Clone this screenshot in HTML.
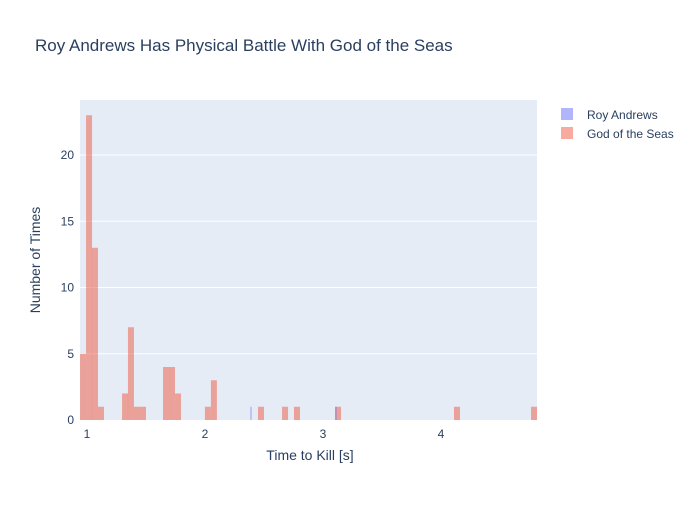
<!DOCTYPE html>
<html><head><meta charset="utf-8"><style>
body{margin:0;background:#fff;font-family:"Liberation Sans",sans-serif;}
svg text{font-family:"Liberation Sans",sans-serif;}
</style></head><body>
<svg width="700" height="500" xmlns="http://www.w3.org/2000/svg">
<rect width="700" height="500" fill="#fff"/>
<text x="35" y="51" font-size="17" fill="#2a3f5f">Roy Andrews Has Physical Battle With God of the Seas</text>
<rect x="80" y="100" width="457" height="320" fill="#e5ecf6"/>
<g id="grid"></g>
<g id="bars"></g>
<g id="ticks"></g>
<text x="310" y="460" font-size="14" fill="#2a3f5f" text-anchor="middle">Time to Kill [s]</text>
<text transform="translate(40,260) rotate(-90)" font-size="14" fill="#2a3f5f" text-anchor="middle">Number of Times</text>
<g>
<g><rect x="561" y="108" width="12" height="12" fill="#636efa" opacity="0.5"/><text x="587" y="119" font-size="12" fill="#2a3f5f">Roy Andrews</text></g>
<g><rect x="561" y="127" width="12" height="12" fill="#EF553B" opacity="0.5"/><text x="587" y="138" font-size="12" fill="#2a3f5f">God of the Seas</text></g>
</g>
</svg>
<script>
const redStarts=[0.941,0.992,1.042,1.093,1.297,1.347,1.398,1.449,1.644,1.695,1.746,1.999,2.05,2.449,2.653,2.754,3.102,4.110,4.763];
const redCounts=[5,23,13,1,2,7,1,1,4,4,2,1,3,1,1,1,1,1,1];
const blueValues=[2.39,3.11];
const blueCounts=[1,1];
const binWidth=0.0508;
const xTicks=[1,2,3,4];
const yTicks=[0,5,10,15,20];
const NS="http://www.w3.org/2000/svg";
const xs=v=>87+(v-1)*118;
const ys=v=>420-v*13.25;
function mk(tag,attrs,parent,text){const e=document.createElementNS(NS,tag);for(const k in attrs)e.setAttribute(k,attrs[k]);if(text!==undefined)e.textContent=text;document.getElementById(parent).appendChild(e);return e;}
yTicks.forEach(t=>{
 if(t>0){const g=mk('line',{x1:80,x2:537,y1:ys(t),y2:ys(t),stroke:'#fff','stroke-width':1},'grid');
 
 }
 const l=mk('text',{x:74,y:ys(t)+4,'font-size':12,fill:'#2a3f5f','text-anchor':'end'},'ticks',t);
 
 
});
xTicks.forEach(t=>{
 const l=mk('text',{x:xs(t),y:438,'font-size':12,fill:'#2a3f5f','text-anchor':'middle'},'ticks',t);
 
 
});
redStarts.forEach((s,i)=>{
 const r=mk('rect',{x:xs(s),y:ys(redCounts[i]),width:xs(s+binWidth)-xs(s),height:420-ys(redCounts[i]),fill:'#EF553B',opacity:0.5},'bars');
 
 
});
blueValues.forEach((v,i)=>{
 const r=mk('rect',{x:xs(v)-0.6,y:ys(blueCounts[i]),width:1.2,height:420-ys(blueCounts[i]),fill:'#636efa',opacity:0.5},'bars');
 
 
});
</script>
</body></html>
